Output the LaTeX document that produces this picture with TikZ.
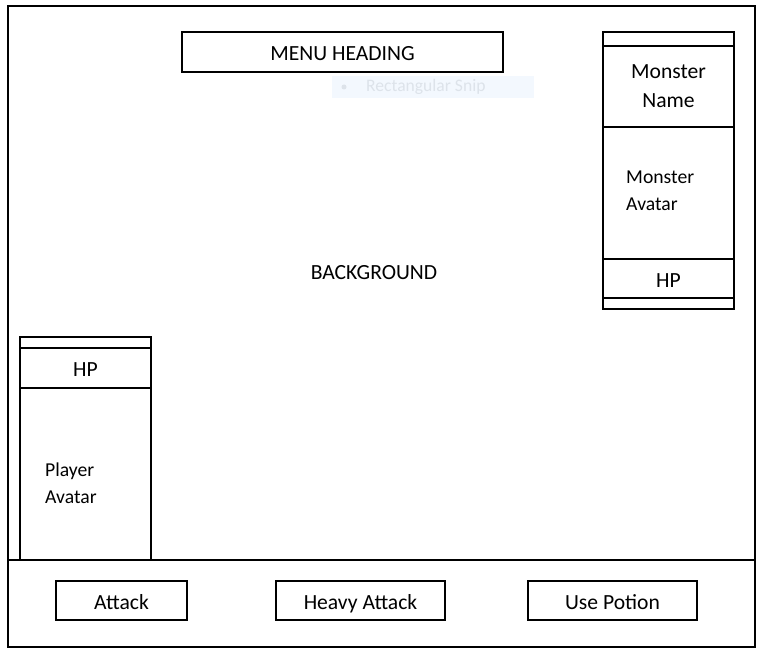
\documentclass[tikz,border=0pt]{standalone}
\usepackage{fontspec}
\setmainfont{Carlito}
\usetikzlibrary{positioning}
\definecolor{snipblue}{HTML}{F3F8FE}
\definecolor{sniptext}{HTML}{DDE3EA}

\tikzset{
  frame/.style={draw, line width=1.1pt, inner sep=0pt, outer sep=0pt},
  big/.style={font=\fontsize{12.3}{16.4}\selectfont, align=center},
  oneline/.style={big, text height=10.2pt, text depth=0pt},
  small/.style={font=\fontsize{11.2}{15.3}\selectfont, align=left},
}

\begin{document}
\begin{tikzpicture}[x=0.02cm, y=-0.02cm]
\useasboundingbox[fill=white] (0,0) rectangle (761,652);

% screen and action bar
\node[frame, minimum width=14.94cm, minimum height=12.82cm] (screen) at (381.5,326.5) {};
\node[frame, minimum width=14.94cm, minimum height=1.74cm] (bar) at (381.5,603.5) {};
\node[big] (bg) at (374,273) {BACKGROUND};

% heading and the snip tooltip
\node[frame, oneline, minimum width=6.42cm, minimum height=0.8cm] (heading) at (342.5,52) {MENU HEADING};
\node[fill=snipblue, minimum width=4.04cm, minimum height=0.44cm, inner sep=0pt] (snip) at (433,87) {};
\node[circle, fill=sniptext, inner sep=0pt, minimum size=0.1cm] (snipdot) at (344,87) {};
\node[font=\fontsize{10}{12}\selectfont, text=sniptext, anchor=west] (sniplabel) at (360,87) {Rectangular Snip};

% monster column
\node[frame, minimum width=2.62cm, minimum height=0.28cm] (mtop) at (668.5,39) {};
\node[frame, big, minimum width=2.62cm, minimum height=1.62cm, below=0pt of mtop] (mname) {Monster\\Name};
\node[frame, minimum width=2.62cm, minimum height=2.64cm, below=0pt of mname] (mavatar) {};
\node[frame, oneline, minimum width=2.62cm, minimum height=0.78cm, below=0pt of mavatar] (mhp) {HP};
\node[frame, minimum width=2.62cm, minimum height=0.22cm, below=0pt of mhp] (mbottom) {};
\node[small, anchor=west] (mavatartext) at (620,191) {Monster\\Avatar};

% player column
\node[frame, minimum width=2.62cm, minimum height=0.22cm] (ptop) at (85.5,342.5) {};
\node[frame, oneline, minimum width=2.62cm, minimum height=0.8cm, below=0pt of ptop] (php) {HP};
\node[frame, minimum width=2.62cm, minimum height=3.44cm, below=0pt of php] (pavatar) {};
\node[small, anchor=west] (pavatartext) at (39,483) {Player\\Avatar};

% buttons
\node[frame, oneline, minimum width=2.62cm, minimum height=0.78cm] (attack) at (121.5,600.5) {Attack};
\node[frame, oneline, minimum width=3.38cm, minimum height=0.78cm] (heavy) at (360.5,600.5) {Heavy Attack};
\node[frame, oneline, minimum width=3.38cm, minimum height=0.78cm] (potion) at (612.5,600.5) {Use Potion};

\end{tikzpicture}
\end{document}
